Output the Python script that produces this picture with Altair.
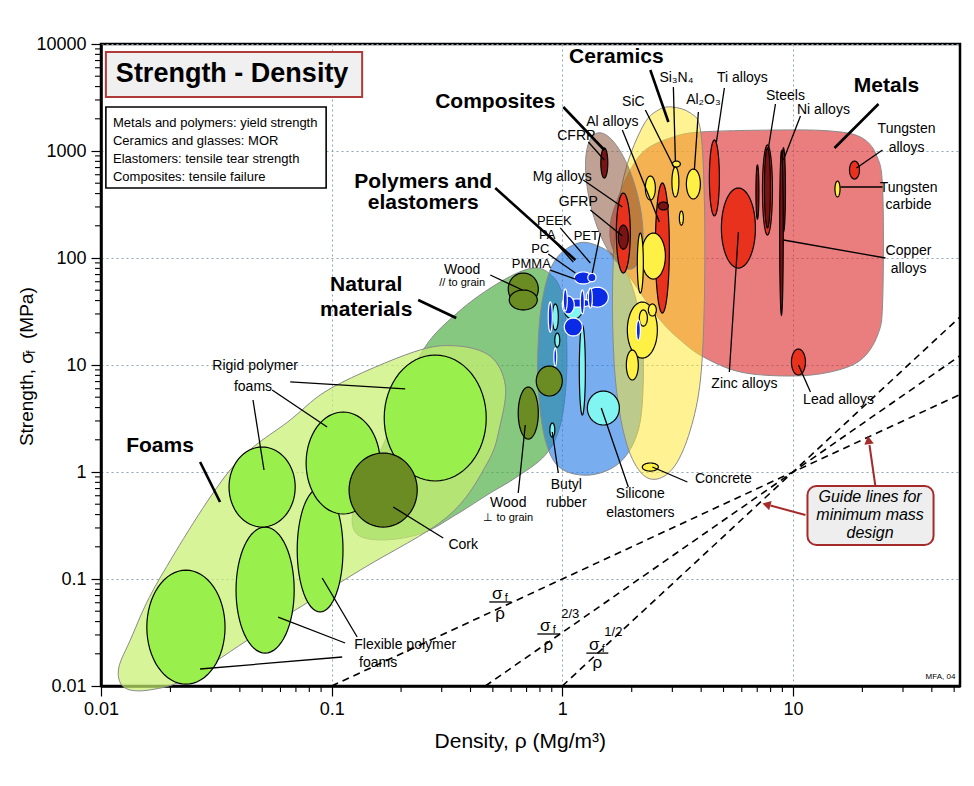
import numpy as np
import pandas as pd
import altair as alt

W, H = 859, 642
X_DOMAIN = [0.01, 53]
Y_DOMAIN = [0.01, 10000]

# ---------------- envelopes (density Mg/m3, strength MPa) ----------------
natural_env_rho = [0.748, 0.905, 1.0, 1.041, 1.041, 0.98, 0.844, 0.625, 0.487, 0.344, 0.249, 0.171, 0.130, 0.123, 0.136, 0.171, 0.242, 0.350, 0.538]
natural_env_sig = [80.6, 67.9, 45.1, 21.2, 7.24, 2.75, 1.44, 0.879, 0.636, 0.396, 0.269, 0.232, 0.258, 0.396, 0.756, 1.99, 12.4, 30.6, 59.7]

foam_env_rho = [0.0119, 0.0134, 0.0180, 0.0363, 0.0661, 0.1015, 0.226, 0.344, 0.487, 0.566, 0.538, 0.473, 0.317, 0.133, 0.0490, 0.0243, 0.0163, 0.0127]
foam_env_sig = [0.0141, 0.0269, 0.102, 1.044, 3.06, 6.23, 13.2, 15.1, 12.1, 6.50, 2.75, 1.21, 0.380, 0.121, 0.0320, 0.0121, 0.0092, 0.0096]

polymer_env_rho = [1.173, 1.462, 1.785, 2.032, 2.202, 2.246, 2.136, 1.785, 1.323, 0.98, 0.844, 0.787, 0.787, 0.827, 0.932]
polymer_env_sig = [138, 126.7, 91.7, 50.2, 21.2, 7.24, 2.47, 1.24, 0.938, 1.09, 1.99, 5.84, 17.1, 45.1, 95.8]

metal_env_rho = [1.665, 1.615, 1.732, 1.972, 2.291, 2.941, 3.968, 8.83, 14.5, 19.6, 23.0, 24.5, 24.5, 23.3, 19.6, 14.5, 9.75, 5.92, 4.09, 3.25, 2.66, 2.07]
metal_env_sig = [119, 203, 348, 664, 1022, 1323, 1505, 1572, 1538, 1351, 917, 432, 40.5, 19.1, 11.1, 8.60, 7.89, 8.60, 11.9, 17.1, 26.3, 55.9]

ceramic_env_rho = [3.00, 3.59, 3.97, 4.13, 4.13, 3.97, 3.59, 3.09, 2.58, 2.18, 1.88, 1.70, 1.65, 1.70, 1.88, 2.25, 2.61]
ceramic_env_sig = [2577, 2265, 1572, 348, 40.5, 7.24, 2.47, 1.16, 0.86, 1.0, 1.99, 7.24, 40.5, 183, 664, 1750, 2417]

# composites envelope: centre density, centre strength, half-length, half-width (density decades), tilt (deg)
composite_env = (1.681, 341, 0.304, 0.104, 104)

# ---------------- material bubbles: density range, strength range ----------------
natural_bubbles = [(0.583, 0.787, 36.4, 72.4), (0.589, 0.779, 32.7, 50.2),
                   (0.644, 0.787, 2.03, 6.23), (0.771, 1.0, 5.13, 9.79)]
foam_bubbles = [(0.0158, 0.0345, 0.0104, 0.121), (0.0385, 0.0688, 0.0203, 0.306),
                (0.0709, 0.112, 0.0492, 0.709), (0.0359, 0.0695, 0.306, 1.713),
                (0.0775, 0.1623, 0.405, 3.636), (0.169, 0.468, 0.824, 12.4)]
cork_bubbles = [(0.119, 0.235, 0.306, 1.505)]
elastomer_bubbles = [(1.020, 1.221, 26.9, 39.6), (0.905, 0.961, 21.2, 37.2), (0.928, 0.975, 14.7, 19.9),
                     (1.185, 1.259, 3.41, 23.6), (0.883, 0.928, 2.12, 2.87), (1.284, 1.768, 2.75, 5.71)]
polymer_bubbles = [(1.127, 1.349, 57.2, 74.0), (1.271, 1.583, 34.8, 53.3), (1.0, 1.349, 34.8, 41.4),
                   (1.0, 1.127, 30.0, 44.1), (1.020, 1.221, 18.7, 27.5), (1.010, 1.051, 32.0, 51.3),
                   (1.197, 1.246, 30.0, 50.2), (1.297, 1.349, 34.1, 52.4), (0.869, 0.905, 20.3, 38.8),
                   (0.919, 0.946, 9.79, 14.4), (1.29, 1.40, 60.0, 72.0)]
metal_bubbles = [(1.715, 1.972, 72.4, 405), (2.532, 2.912, 30.6, 502), (4.342, 4.798, 247, 1267),
                 (4.895, 6.876, 80.6, 451), (7.375, 8.149, 164, 1138), (17.59, 19.43, 547, 806),
                 (9.85, 11.33, 8.06, 14.1)]
dark_bubbles = [(2.609, 2.884, 281, 334), (1.750, 1.933, 121, 203), (1.469, 1.575, 559, 1067),
                (7.523, 7.988, 191, 1067), (6.910, 7.120, 231, 740), (8.915, 9.28, 175, 1067),
                (8.756, 9.078, 29.3, 1000)]
ceramic_bubbles = [(2.202, 2.799, 63.6, 171), (2.115, 2.246, 47.1, 171), (2.291, 2.532, 348, 584),
                   (2.987, 3.202, 372, 709), (3.00, 3.25, 709, 806), (3.451, 3.968, 356, 679),
                   (3.218, 3.35, 203, 275), (1.914, 2.583, 11.6, 38.8), (2.361, 2.557, 28.7, 37.2),
                   (1.895, 2.136, 7.24, 13.8), (2.158, 2.338, 23.1, 32.7), (2.223, 2.609, 1.02, 1.214),
                   (15.21, 16.0, 372, 524)]
glass_bubbles = [(2.094, 2.180, 17.1, 26.3)]

# ---------------- guide lines (start/end points) ----------------
guide_lines = [(0.1, 0.01, 53, 5.3), (0.464, 0.01, 53, 12.2), (1.0, 0.01, 53, 28.1)]

# ---------------- leader lines ----------------
thick_leaders = [(1.010, 2577, 1.521, 1022), (2.408, 5715, 2.884, 1866), (23.49, 2750, 15.14, 1067),
                 (0.512, 451, 1.139, 95.8), (0.2373, 40.5, 0.3468, 27.5), (0.02689, 1.240, 0.03282, 0.5245)]
thin_leaders = [(1.297, 1214, 1.521, 824), (1.821, 1572, 2.635, 217), (2.291, 2417, 3.062, 694),
                (3.031, 3963, 3.093, 806), (3.89, 2314, 3.738, 664), (5.044, 3880, 4.657, 1214),
                (8.397, 2750, 7.829, 1067), (10.78, 2124, 9.094, 824), (24.45, 1022, 18.86, 694),
                (16.07, 461, 24.45, 461), (9.094, 147.3, 25.19, 100), (1.233, 536, 1.821, 299.7),
                (1.323, 281, 1.821, 160.6), (0.980, 191, 1.323, 89.8), (1.462, 171, 1.349, 72.4),
                (0.914, 147.3, 1.116, 91.7), (0.869, 109, 1.139, 72.4), (0.887, 77.2, 1.139, 63.6),
                (0.4872, 69.4, 0.671, 50.2), (0.0661, 6.94, 0.2084, 5.97), (0.0552, 5.84, 0.0956, 2.634),
                (0.0456, 4.71, 0.0509, 1.044), (0.3046, 0.2416, 0.1849, 0.471), (0.1144, 0.02523, 0.0586, 0.0441),
                (0.129, 0.0287, 0.0910, 0.1022), (0.1111, 0.01866, 0.02689, 0.01442), (0.644, 0.6362, 0.691, 2.75),
                (0.961, 0.979, 0.905, 2.365), (1.933, 0.724, 1.476, 3.963), (3.486, 0.806, 2.457, 1.113),
                (5.30, 8.60, 5.801, 175), (11.91, 5.59, 10.57, 10.0)]
arrow_lines = [(22.8, 0.724, 21.47, 1.788), (11.33, 0.3963, 7.988, 0.486)]
arrow_heads = [(21.26, 1.99, 352), (7.674, 0.497, 285)]

# ---------------- text ----------------
group_labels = [(0.512, 2871, "Composites"), (1.715, 7558, "Ceramics"), (25.44, 4051, "Metals"),
                (0.2494, 513, "Polymers and"), (0.2494, 327, "elastomers"), (0.1412, 55.9, "Natural"),
                (0.1412, 32.7, "materials"), (0.01803, 1.75, "Foams")]
material_labels = [(1.150, 1381, "CFRP"), (1.648, 1866, "Al alloys"), (2.032, 2871, "SiC"),
                   (3.124, 4811, "Si₃N₄"), (4.09, 2996, "Al₂O₃"), (6.038, 4811, "Ti alloys"),
                   (9.28, 3266, "Steels"), (13.56, 2417, "Ni alloys"), (31.08, 1606, "Tungsten"),
                   (31.08, 1067, "alloys"), (31.71, 451, "Tungsten"), (31.71, 313, "carbide"),
                   (31.71, 116.3, "Copper"), (31.71, 78.9, "alloys"), (1.0, 571, "Mg alloys"),
                   (1.173, 334, "GFRP"), (0.368, 77.2, "Wood"),
                   (0.0466, 9.79, "Rigid polymer"), (0.0456, 6.23, "foams"), (0.372, 0.2079, "Cork"),
                   (0.2084, 0.02416, "Flexible polymer"), (0.1591, 0.01641, "foams"), (0.583, 0.513, "Wood"),
                   (1.041, 0.7557, "Butyl"), (1.041, 0.513, "rubber"), (2.18, 0.6226, "Silicone"),
                   (2.18, 0.414, "elastomers"), (4.994, 0.86, "Concrete"), (6.16, 6.64, "Zinc alloys"),
                   (15.76, 4.71, "Lead alloys")]
polymer_labels = [(0.923, 221.7, "PEEK"), (1.271, 160.6, "PET"), (0.861, 163, "PA"),
                  (0.803, 122, "PC"), (0.734, 87.9, "PMMA")]
small_labels = [(0.368, 58.4, "// to grain"), (0.583, 0.3716, "⊥ to grain")]
legend_lines = [(0.01127, 1827, "Metals and polymers: yield strength"), (0.01127, 1240, "Ceramics and glasses: MOR"),
                (0.01127, 842, "Elastomers: tensile tear strength"), (0.01127, 571, "Composites: tensile failure")]
title_text = [(0.03703, 5244, "Strength - Density")]
guide_text = [(21.6, 0.5839, "Guide lines for"), (21.6, 0.3963, "minimum mass"), (21.6, 0.2691, "design")]
credit_text = [(43.6, 0.01214, "MFA, 04")]
x_title = [(0.6574, 0.002997, "Density, ρ  (Mg/m³)")]
y_title_main = [(0.00477, 13.23, "Strength, σ")]
y_title_sub = [(0.00497, 12.67, "f")]
y_title_end = [(0.00477, 17.5, "(MPa)")]
frac_sigma = [(0.5224, 0.0724, "σ"), (0.8436, 0.03637, "σ"), (1.376, 0.02416, "σ")]
frac_sub = [(0.5715, 0.0664, "f"), (0.923, 0.03337, "f"), (1.506, 0.02217, "f")]
frac_rho = [(0.538, 0.0471, "ρ"), (0.869, 0.02416, "ρ"), (1.418, 0.01641, "ρ")]
frac_exp = [(1.083, 0.0471, "2/3"), (1.665, 0.03197, "1/2")]
frac_bars = [(0.4824, 0.061, 0.6007, 0.061), (0.779, 0.03062, 0.980, 0.03062), (1.271, 0.0203, 1.583, 0.0203)]

# boxes (density lo/hi, strength lo/hi)
title_box = [(0.0105, 0.1356, 3196, 8414)]
legend_box = [(0.0105, 0.09465, 451, 2577)]
guide_box = [(11.56, 40.7, 0.2079, 0.740)]

# axis ticks
x_major = [0.01, 0.1, 1, 10]
y_major = [0.01, 0.1, 1, 10, 100, 1000, 10000]
x_minor = [round(m * 10.0 ** d, 6) for d in range(-2, 2) for m in range(2, 10) if m * 10.0 ** d <= 53]
y_minor = [round(m * 10.0 ** d, 6) for d in range(-2, 4) for m in range(2, 10)]

# ---------------- helpers ----------------
XS = alt.Scale(type="log", domain=X_DOMAIN, nice=False)
YS = alt.Scale(type="log", domain=Y_DOMAIN, nice=False)
KX = W / np.log10(X_DOMAIN[1] / X_DOMAIN[0])
KY = H / np.log10(Y_DOMAIN[1] / Y_DOMAIN[0])
ASPECT = KX / KY

axis_style = dict(
    title=None, format="~g", grid=True, gridDash=[2, 3], gridWidth=1, gridColor="#8fa6b6",
    tickSize=10, tickColor="black", tickWidth=1.2, domainColor="black", domainWidth=2.5,
    labelFont="Liberation Sans", labelFontSize=18, labelColor="black",
    labelFlush=False, labelOverlap=False, labelBound=False,
)
X_AXIS = alt.Axis(values=x_major, labelPadding=4, **axis_style)
Y_AXIS = alt.Axis(values=y_major, labelPadding=5, **axis_style)


def XE(f="x"):
    return alt.X(f"{f}:Q", scale=XS, axis=X_AXIS)


def YE(f="y"):
    return alt.Y(f"{f}:Q", scale=YS, axis=Y_AXIS)


def ellipse_xy(r_lo, r_hi, s_lo, s_hi, n=64):
    cx = (np.log10(r_lo) + np.log10(r_hi)) / 2
    rx = (np.log10(r_hi) - np.log10(r_lo)) / 2
    cy = (np.log10(s_lo) + np.log10(s_hi)) / 2
    ry = (np.log10(s_hi) - np.log10(s_lo)) / 2
    t = np.linspace(0, 2 * np.pi, n, endpoint=False)
    return 10 ** (cx + rx * np.cos(t)), 10 ** (cy + ry * np.sin(t))


def tilted_xy(rc, sc, a, b, ang, n=80):
    th = np.radians(ang)
    t = np.linspace(0, 2 * np.pi, n, endpoint=False)
    u, v = a * np.cos(t), b * np.sin(t)
    dx = u * np.cos(th) - v * np.sin(th)
    dy = (u * np.sin(th) + v * np.cos(th)) * ASPECT
    return 10 ** (np.log10(rc) + dx), 10 ** (np.log10(sc) + dy)


def shape_df(shapes):
    rows = []
    for k, (xs, ys, fill, stroke) in enumerate(shapes):
        for i, (xv, yv) in enumerate(zip(xs, ys)):
            rows.append({"key": f"s{k:03d}", "i": i, "x": float(xv), "y": float(yv), "fill": fill, "stroke": stroke})
    return pd.DataFrame(rows)


def shape_layer(shapes, interp, opacity=1.0, sw=1.2):
    df = shape_df(shapes)
    return alt.Chart(df).mark_line(interpolate=interp, strokeWidth=sw, fillOpacity=opacity).encode(
        x=XE(), y=YE(), order="i:Q", detail="key:N",
        fill=alt.Fill("fill:N", scale=None), stroke=alt.Stroke("stroke:N", scale=None))


def texts(rows, size, weight="normal", align="center", font="Liberation Sans", style="normal", angle=0, color="black"):
    df = pd.DataFrame(rows, columns=["x", "y", "t"])
    return alt.Chart(df).mark_text(fontSize=size, fontWeight=weight, align=align, font=font, fontStyle=style,
                                   baseline="middle", angle=angle, color=color).encode(
        x=XE(), y=YE(), text="t:N")


def segs(rows, width, color="black", dash=None):
    df = pd.DataFrame(rows, columns=["x", "y", "x2", "y2"])
    kw = {"strokeDash": dash} if dash else {}
    return alt.Chart(df).mark_rule(strokeWidth=width, color=color, **kw).encode(
        x=XE(), y=YE(), x2="x2:Q", y2="y2:Q")


def boxes(rows, fill, stroke, sw, radius=0):
    df = pd.DataFrame(rows, columns=["x", "x2", "y", "y2"])
    return alt.Chart(df).mark_rect(fill=fill, stroke=stroke, strokeWidth=sw, cornerRadius=radius).encode(
        x=XE(), x2="x2:Q", y=YE(), y2="y2:Q")


layers = []
# minor ticks
layers.append(alt.Chart(pd.DataFrame({"x": x_minor})).mark_rule(color="black", strokeWidth=1.1).encode(
    x=XE(), y=alt.value(H + 1), y2=alt.value(H + 6)))
layers.append(alt.Chart(pd.DataFrame({"y": y_minor})).mark_rule(color="black", strokeWidth=1.1).encode(
    y=YE(), x=alt.value(-1), x2=alt.value(-6)))

GRAY = "#8a8a8a"
layers.append(shape_layer([(natural_env_rho, natural_env_sig, "#46aa3c", GRAY)], "cardinal-closed", 0.65, 1))
layers.append(shape_layer([(foam_env_rho, foam_env_sig, "#c8f06e", GRAY)], "cardinal-closed", 0.7, 1))
layers.append(shape_layer([(polymer_env_rho, polymer_env_sig, "#1e78e6", GRAY)], "cardinal-closed", 0.6, 1))
layers.append(shape_layer([(metal_env_rho, metal_env_sig, "#dc2828", GRAY)], "cardinal-closed", 0.6, 1))
layers.append(shape_layer([(ceramic_env_rho, ceramic_env_sig, "#ffe628", GRAY)], "cardinal-closed", 0.5, 1))
cx, cy = tilted_xy(*composite_env)
layers.append(shape_layer([(cx, cy, "#82462a", GRAY)], "linear-closed", 0.5, 1))

bubble_shapes = []
for fam, fill, stroke in [(natural_bubbles, "#6b8c23", "black"), (foam_bubbles, "#99f04c", "black"),
                          (cork_bubbles, "#6b8c23", "black"), (elastomer_bubbles, "#80f5f2", "black"),
                          (polymer_bubbles, "#0a2ae6", "white"), (metal_bubbles, "#e8321e", "black"),
                          (dark_bubbles, "#7a1414", "black"), (ceramic_bubbles, "#fff046", "black"),
                          (glass_bubbles, "#0a2ae6", "white")]:
    for b in fam:
        ex, ey = ellipse_xy(*b)
        bubble_shapes.append((ex, ey, fill, stroke))
layers.append(shape_layer(bubble_shapes, "linear-closed", 1.0, 1.2))

layers.append(segs(guide_lines, 1.6, dash=[7, 5]))
layers.append(segs(thick_leaders, 2.6))
layers.append(segs(thin_leaders, 1.3))
layers.append(segs(frac_bars, 1.3))
layers.append(segs(arrow_lines, 2, color="#a52a2a"))
ah = pd.DataFrame(arrow_heads, columns=["x", "y", "a"])
layers.append(alt.Chart(ah).mark_point(shape="triangle-up", filled=True, size=90, color="#a52a2a", opacity=1).encode(
    x=XE(), y=YE(), angle=alt.Angle("a:Q", scale=None)))

layers.append(boxes(title_box, "#f0f0f0", "#b03a3a", 2))
layers.append(boxes(legend_box, "white", "black", 1.6))
layers.append(boxes(guide_box, "#eeeeee", "#a52a2a", 2, radius=9))

layers.append(texts(title_text, 27, weight="bold"))
layers.append(texts(legend_lines, 13, align="left", font="Liberation Sans Narrow, Liberation Sans"))
layers.append(texts(group_labels, 21, weight="bold"))
layers.append(texts(material_labels, 14))
layers.append(texts(polymer_labels, 13))
layers.append(texts(small_labels, 11))
layers.append(texts(guide_text, 16, style="italic"))
layers.append(texts(credit_text, 8))
layers.append(texts(x_title, 21))
layers.append(texts(y_title_main, 19, align="right", angle=270))
layers.append(texts(y_title_sub, 13, align="left", angle=270))
layers.append(texts(y_title_end, 19, align="left", angle=270))
layers.append(texts(frac_sigma, 17))
layers.append(texts(frac_sub, 11))
layers.append(texts(frac_rho, 17))
layers.append(texts(frac_exp, 13))

chart = alt.layer(*layers).properties(
    width=W, height=H,
    padding={"left": 93, "top": 36, "right": 6, "bottom": 84},
    autosize=alt.AutoSizeParams(type="none"),
    background="white",
).configure_view(stroke="black", strokeWidth=2.5)

chart.save("out.html", embed_options={"renderer": "svg", "actions": False})
